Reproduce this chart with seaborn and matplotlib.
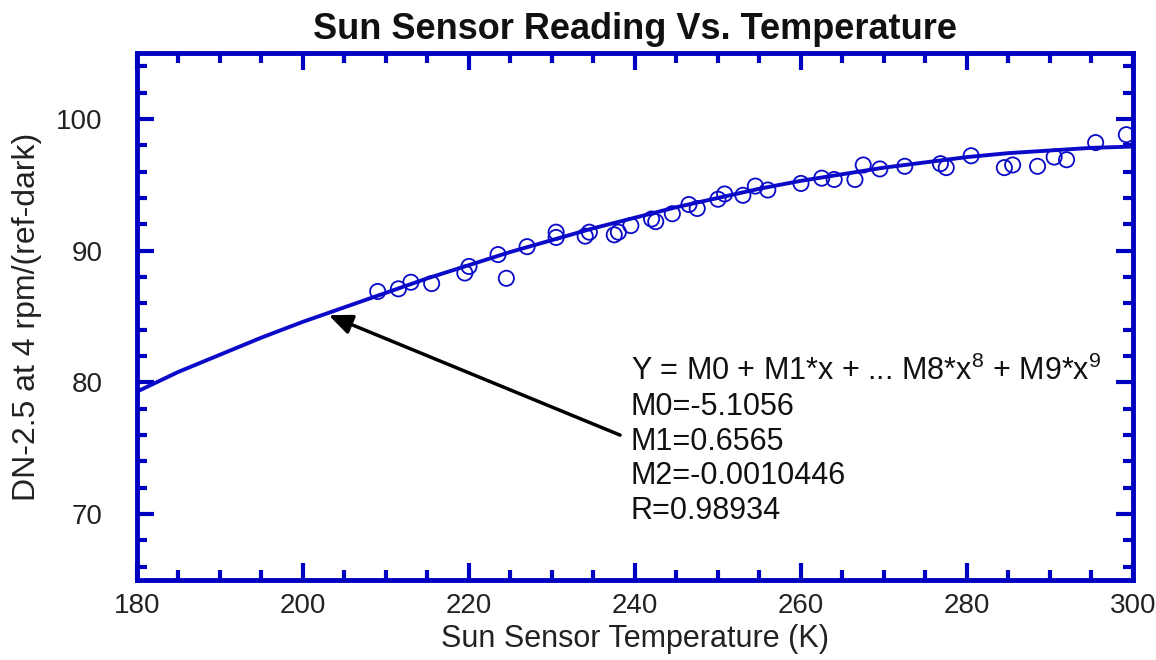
import numpy as np
import pandas as pd
import matplotlib
matplotlib.use('Agg')
import matplotlib.pyplot as plt
import matplotlib.transforms as mtransforms
from matplotlib.ticker import MultipleLocator
import seaborn as sns

# measured points (temperature K, DN reading)
temp_k = [209.0, 211.5, 213.0, 215.5, 219.5, 220.0, 223.5, 224.5, 227.0, 230.5,
          230.5, 234.0, 234.5, 237.5, 238.0, 239.5, 242.0, 242.5, 244.5, 246.5,
          247.5, 250.0, 250.8, 253.0, 254.5, 256.0, 260.0, 262.5, 264.0, 266.5,
          267.5, 269.5, 272.5, 276.8, 277.5, 280.5, 284.5, 285.5, 288.5, 290.5,
          292.0, 295.5, 299.2]
dn_reading = [86.9, 87.1, 87.6, 87.5, 88.3, 88.8, 89.7, 87.9, 90.3, 91.4,
              91.0, 91.1, 91.4, 91.2, 91.4, 91.9, 92.4, 92.2, 92.8, 93.5,
              93.2, 93.9, 94.3, 94.2, 94.9, 94.6, 95.1, 95.5, 95.4, 95.4,
              96.5, 96.2, 96.4, 96.6, 96.3, 97.2, 96.3, 96.5, 96.4, 97.1,
              96.9, 98.2, 98.8]

# fitted curve
fit_x = [180, 185, 190, 195, 200, 205, 210, 215, 220, 225, 230, 235, 240,
         245, 250, 255, 260, 265, 270, 275, 280, 285, 290, 295, 300]
fit_y = [79.3, 80.8, 82.1, 83.4, 84.6, 85.7, 86.8, 87.9, 88.9, 89.9, 90.8, 91.7, 92.5,
         93.3, 94.0, 94.7, 95.3, 95.8, 96.3, 96.7, 97.1, 97.4, 97.6, 97.8, 97.9]

fit_text = ['Y = M0 + M1*x + ... M8*x$^{8}$ + M9*x$^{9}$',
            'M0=-5.1056', 'M1=0.6565', 'M2=-0.0010446', 'R=0.98934']

pts_df = pd.DataFrame({'temp': temp_k, 'dn': dn_reading})
fit_df = pd.DataFrame({'temp': fit_x, 'dn': fit_y})

sns.set_style('white')
plt.rcParams['font.family'] = ['Liberation Sans', 'DejaVu Sans']
plt.rcParams['mathtext.fontset'] = 'custom'
plt.rcParams['mathtext.rm'] = 'Liberation Sans'

blue = '#0a0ac8'
spine_blue = '#0000c0'
txt_col = '#222222'

fig = plt.figure(figsize=(11.56, 6.6), dpi=100)
ax = fig.add_axes([0.1185, 0.1212, 0.8616, 0.7985])

sns.lineplot(data=fit_df, x='temp', y='dn', color=blue, linewidth=2.8, ax=ax)
sns.scatterplot(data=pts_df, x='temp', y='dn', marker='o', s=120,
                facecolor='none', edgecolor=blue, linewidth=1.3, ax=ax, zorder=3)

ax.set_xlim(180, 300)
ax.set_ylim(65, 105)
ax.xaxis.set_major_locator(MultipleLocator(20))
ax.xaxis.set_minor_locator(MultipleLocator(5))
ax.yaxis.set_minor_locator(MultipleLocator(2))
ax.set_yticks([70, 80, 90, 100])
ax.tick_params(which='both', direction='in', top=True, right=True, bottom=True, left=True,
               color=spine_blue, width=3, labelsize=20, labelcolor=txt_col)
ax.tick_params(which='major', length=12)
ax.tick_params(axis='x', which='major', pad=9)
ax.tick_params(axis='y', which='major', pad=25)
ax.tick_params(which='minor', length=7)
for sp in ax.spines.values():
    sp.set_color(spine_blue)
    sp.set_linewidth(3.5)

# nudge the last x label so it stays inside the figure
fig.canvas.draw()
last_lbl = ax.get_xticklabels()[-1]
last_lbl.set_transform(last_lbl.get_transform() +
                       mtransforms.ScaledTranslation(-8 / 100, 0, fig.dpi_scale_trans))

ax.set_xlabel('Sun Sensor Temperature (K)', fontsize=22, labelpad=4, color=txt_col)
ax.set_ylabel('DN-2.5 at 4 rpm/(ref-dark)', fontsize=23, labelpad=10, color=txt_col)
ax.set_title('Sun Sensor Reading Vs. Temperature', fontsize=26, fontweight='bold',
             pad=10, color='#111111')

# fit annotation
ax.annotate('', xy=(203.1, 85.1), xytext=(238.2, 76.0),
            arrowprops=dict(arrowstyle='-|>,head_length=1.4,head_width=0.6',
                            color='black', lw=2.5, shrinkA=0, shrinkB=0))
for i, line in enumerate(fit_text):
    ax.text(239.5, 80.2 - i * 2.65, line, fontsize=22, va='baseline', ha='left',
            color='#111111')

fig.savefig('out.png', dpi=100)
